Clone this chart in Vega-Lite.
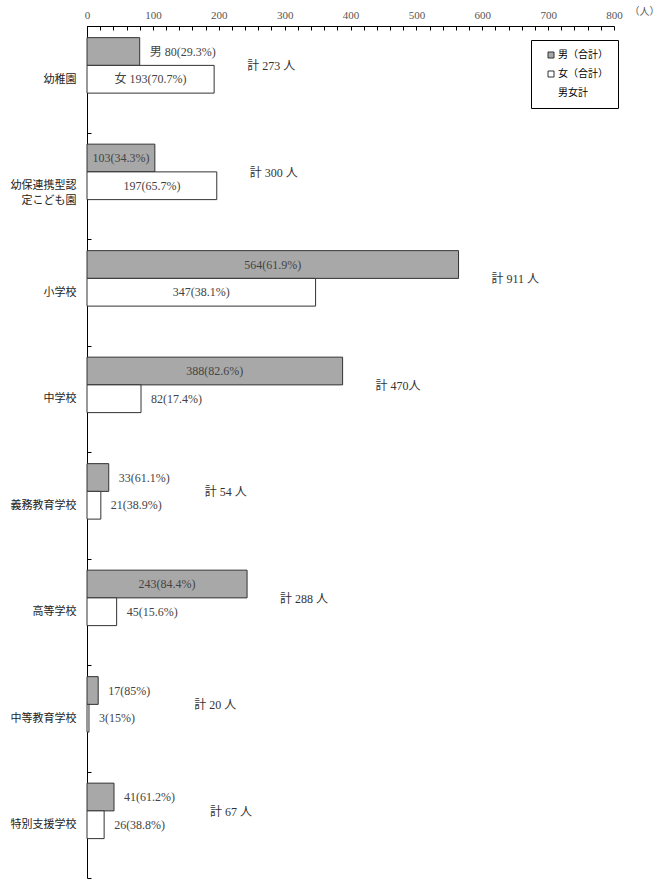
{
  "$schema": "https://vega.github.io/schema/vega-lite/v6.json",
  "autosize": "none",
  "padding": {"left": 87, "top": 26, "right": 48, "bottom": 5},
  "width": 527,
  "height": 852,
  "background": "white",
  "config": {
    "view": {"stroke": null},
    "font": "Noto Sans CJK JP",
    "text": {"font": "Liberation Serif, Noto Sans CJK JP", "fontSize": 12, "color": "#444"}
  },
  "data": {
    "values": [
      {"school": "幼稚園", "sex": "男（合計）", "n": 80, "label": "男 80(29.3%)", "total": "計 273 人"},
      {"school": "幼稚園", "sex": "女（合計）", "n": 193, "label": "女 193(70.7%)", "total": "計 273 人"},
      {"school": "幼保連携型認定こども園", "sex": "男（合計）", "n": 103, "label": "103(34.3%)", "total": "計 300 人"},
      {"school": "幼保連携型認定こども園", "sex": "女（合計）", "n": 197, "label": "197(65.7%)", "total": "計 300 人"},
      {"school": "小学校", "sex": "男（合計）", "n": 564, "label": "564(61.9%)", "total": "計 911 人"},
      {"school": "小学校", "sex": "女（合計）", "n": 347, "label": "347(38.1%)", "total": "計 911 人"},
      {"school": "中学校", "sex": "男（合計）", "n": 388, "label": "388(82.6%)", "total": "計  470人"},
      {"school": "中学校", "sex": "女（合計）", "n": 82, "label": "82(17.4%)", "total": "計  470人"},
      {"school": "義務教育学校", "sex": "男（合計）", "n": 33, "label": "33(61.1%)", "total": "計 54 人"},
      {"school": "義務教育学校", "sex": "女（合計）", "n": 21, "label": "21(38.9%)", "total": "計 54 人"},
      {"school": "高等学校", "sex": "男（合計）", "n": 243, "label": "243(84.4%)", "total": "計 288 人"},
      {"school": "高等学校", "sex": "女（合計）", "n": 45, "label": "45(15.6%)", "total": "計 288 人"},
      {"school": "中等教育学校", "sex": "男（合計）", "n": 17, "label": "17(85%)", "total": "計 20 人"},
      {"school": "中等教育学校", "sex": "女（合計）", "n": 3, "label": "3(15%)", "total": "計 20 人"},
      {"school": "特別支援学校", "sex": "男（合計）", "n": 41, "label": "41(61.2%)", "total": "計 67 人"},
      {"school": "特別支援学校", "sex": "女（合計）", "n": 26, "label": "26(38.8%)", "total": "計 67 人"}
    ]
  },
  "encoding": {
    "y": {
      "field": "school",
      "type": "nominal",
      "sort": null,
      "scale": {"paddingInner": 0, "paddingOuter": 0},
      "axis": {
        "title": null,
        "domainColor": "black",
        "tickColor": "black",
        "tickBand": "extent",
        "tickSize": -4,
        "labelPadding": 15,
        "labelFontSize": 11,
        "labelLineHeight": 15,
        "labelColor": "#222",
        "labelFont": "Noto Sans CJK JP",
        "labelExpr": "datum.label == '幼保連携型認定こども園' ? ['幼保連携型認', '定こども園'] : datum.label"
      }
    }
  },
  "resolve": {"scale": {"x": "independent"}},
  "layer": [
    {
      "mark": {"type": "bar", "stroke": "#333", "strokeWidth": 1},
      "encoding": {
        "x": {
          "field": "n",
          "type": "quantitative",
          "scale": {"domain": [0, 800], "nice": false},
          "axis": {
            "orient": "top",
            "title": "（人）",
            "titleX": 542,
            "titleY": -15,
            "titleAlign": "left",
            "titleBaseline": "middle",
            "titleFontSize": 10,
            "titleFontWeight": "normal",
            "titleColor": "#555",
            "titleFont": "Noto Sans CJK JP",
            "grid": false,
            "domainColor": "black",
            "tickColor": "black",
            "tickSize": -4,
            "values": [0, 20, 40, 60, 80, 100, 120, 140, 160, 180, 200, 220, 240, 260, 280, 300, 320, 340, 360, 380, 400, 420, 440, 460, 480, 500, 520, 540, 560, 580, 600, 620, 640, 660, 680, 700, 720, 740, 760, 780, 800],
            "labelExpr": "datum.value % 100 === 0 ? datum.label : ''",
            "labelOverlap": false,
            "labelFont": "Liberation Serif",
            "labelFontSize": 11,
            "labelColor": "#555",
            "labelPadding": 10,
            "labelFlush": false
          }
        },
        "yOffset": {
          "field": "sex",
          "scale": {"domain": ["男（合計）", "女（合計）", "男女計"], "paddingInner": 0, "paddingOuter": 0.42}
        },
        "fill": {
          "field": "sex",
          "type": "nominal",
          "scale": {"domain": ["男（合計）", "女（合計）", "男女計"], "range": ["#a8a8a8", "#ffffff", "transparent"]},
          "legend": {
            "title": null,
            "orient": "none",
            "legendX": 444,
            "legendY": 14,
            "padding": 10,
            "strokeColor": "black",
            "fillColor": "white",
            "symbolType": "square",
            "symbolSize": 36,
            "symbolStrokeColor": "#333",
            "symbolStrokeWidth": 1,
            "symbolOffset": 5,
            "labelFontSize": 10,
            "labelColor": "black",
            "labelOffset": 2,
            "rowPadding": 9,
            "encode": {
              "symbols": {"update": {"strokeOpacity": {"signal": "datum.value === '男女計' ? 0 : 1"}}}
            }
          }
        }
      }
    },
    {
      "transform": [{"filter": "datum.n >= 100"}],
      "mark": {"type": "text", "align": "center", "baseline": "middle"},
      "encoding": {
        "x": {"field": "n", "type": "quantitative", "scale": {"domain": [0, 1600], "nice": false}, "axis": null},
        "yOffset": {"field": "sex"},
        "text": {"field": "label"}
      }
    },
    {
      "transform": [{"filter": "datum.n < 100"}],
      "mark": {"type": "text", "align": "left", "baseline": "middle", "dx": 10},
      "encoding": {
        "x": {"field": "n", "type": "quantitative", "scale": {"domain": [0, 800], "nice": false}, "axis": null},
        "yOffset": {"field": "sex"},
        "text": {"field": "label"}
      }
    },
    {
      "transform": [
        {"aggregate": [{"op": "max", "field": "n", "as": "maxN"}], "groupby": ["school", "total"]},
        {"filter": "datum.maxN >= 100"}
      ],
      "mark": {"type": "text", "align": "left", "baseline": "middle", "dx": 33, "dy": -13, "color": "#333"},
      "encoding": {
        "x": {"field": "maxN", "type": "quantitative", "scale": {"domain": [0, 800], "nice": false}, "axis": null},
        "text": {"field": "total"}
      }
    },
    {
      "transform": [
        {"aggregate": [{"op": "max", "field": "n", "as": "maxN"}], "groupby": ["school", "total"]},
        {"filter": "datum.maxN < 100"}
      ],
      "mark": {"type": "text", "align": "left", "baseline": "middle", "dx": 96, "dy": -13, "color": "#333"},
      "encoding": {
        "x": {"field": "maxN", "type": "quantitative", "scale": {"domain": [0, 800], "nice": false}, "axis": null},
        "text": {"field": "total"}
      }
    }
  ]
}
